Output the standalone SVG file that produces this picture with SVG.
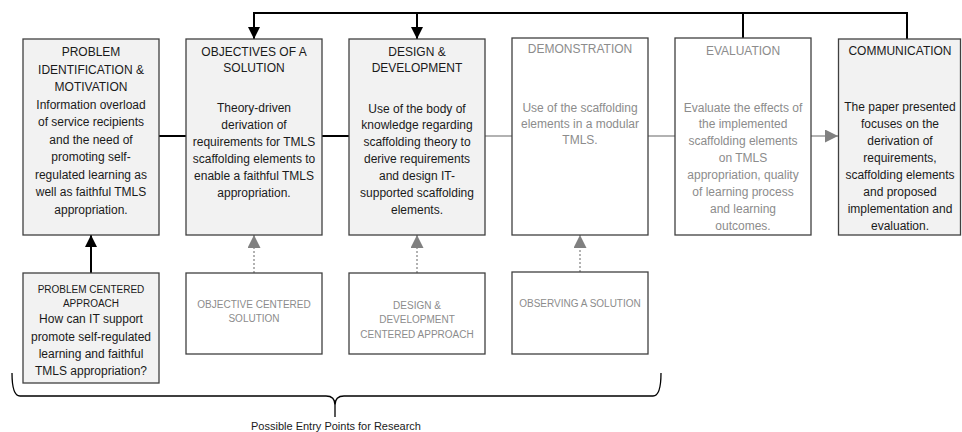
<svg xmlns="http://www.w3.org/2000/svg" width="962" height="432" viewBox="0 0 962 432">
<style>
text{font-family:"Liberation Sans",Arial,sans-serif;text-anchor:middle;}
.t{font-size:12px;fill:#1a1a1a;}
.g{font-size:12px;fill:#8c8c8c;}
.st{font-size:10px;fill:#1a1a1a;}
.sg{font-size:10px;fill:#8c8c8c;}
.bf{fill:#f2f2f2;stroke:#404040;stroke-width:1.3;}
.bw{fill:#ffffff;stroke:#404040;stroke-width:1.3;}
.k{stroke:#000;stroke-width:2;fill:none;}
.gl{stroke:#999;stroke-width:1.5;fill:none;}
.gd{stroke:#999;stroke-width:1.5;fill:none;stroke-dasharray:2 2;}
.cap{font-size:11px;fill:#1a1a1a;}
</style>
<defs>
<marker id="ak" viewBox="0 0 12 12" refX="12" refY="6" markerWidth="12" markerHeight="12" markerUnits="userSpaceOnUse" orient="auto"><path d="M0,0 L12,6 L0,12 z" fill="#000"/></marker>
<marker id="ag" viewBox="0 0 13 13" refX="13" refY="6.5" markerWidth="13" markerHeight="13" markerUnits="userSpaceOnUse" orient="auto"><path d="M0,0 L13,6.5 L0,13 z" fill="#808080"/></marker>
</defs>
<g id="connectors">
<path class="k" d="M159,136 H186"/>
<path class="k" d="M322,136 H349"/>
<path class="gl" d="M485,136 H512"/>
<path class="gl" d="M648,136 H675"/>
<path class="gl" d="M811,136 H838" marker-end="url(#ag)"/>
<path class="k" d="M907,39 V13 H254 V39" marker-end="url(#ak)"/>
<path class="k" d="M417,13 V39" marker-end="url(#ak)"/>
<path class="k" d="M743,13 V38"/>
<path class="k" d="M91,273 V235" marker-end="url(#ak)"/>
<path class="gd" d="M254,273 V235" marker-end="url(#ag)"/>
<path class="gd" d="M417,273 V235" marker-end="url(#ag)"/>
<path class="gd" d="M580,272 V235" marker-end="url(#ag)"/>
<path d="M12,373 Q12,396 20,396 L326,396 Q335,396 335,405 L335,417 M335,405 Q335,396 344,396 L653,396 Q661,396 661,373" fill="none" stroke="#000" stroke-width="1.3"/>
</g>
<g id="n1">
<rect class="bf" x="23" y="39" width="136" height="196"/>
<text class="t" x="91" y="56">PROBLEM</text>
<text class="t" x="91" y="73.5">IDENTIFICATION &amp;</text>
<text class="t" x="91" y="91">MOTIVATION</text>
<text class="t" x="91" y="108.5">Information overload</text>
<text class="t" x="91" y="126">of service recipients</text>
<text class="t" x="91" y="143.5">and the need of</text>
<text class="t" x="91" y="161">promoting self-</text>
<text class="t" x="91" y="178.5">regulated learning as</text>
<text class="t" x="91" y="196">well as faithful TMLS</text>
<text class="t" x="91" y="213.5">appropriation.</text>
</g>
<g id="n2">
<rect class="bf" x="186" y="39" width="136" height="196"/>
<text class="t" x="254" y="56">OBJECTIVES OF A</text>
<text class="t" x="254" y="71.5">SOLUTION</text>
<text class="t" x="254" y="111.5">Theory-driven</text>
<text class="t" x="254" y="128.5">derivation of</text>
<text class="t" x="254" y="145.5">requirements for TMLS</text>
<text class="t" x="254" y="162.5">scaffolding elements to</text>
<text class="t" x="254" y="179.5">enable a faithful TMLS</text>
<text class="t" x="254" y="196.5">appropriation.</text>
</g>
<g id="n3">
<rect class="bf" x="349" y="39" width="136" height="196"/>
<text class="t" x="417" y="56">DESIGN &amp;</text>
<text class="t" x="417" y="71.5">DEVELOPMENT</text>
<text class="t" x="417" y="113">Use of the body of</text>
<text class="t" x="417" y="129">knowledge regarding</text>
<text class="t" x="417" y="146">scaffolding theory to</text>
<text class="t" x="417" y="163">derive requirements</text>
<text class="t" x="417" y="180">and design IT-</text>
<text class="t" x="417" y="197">supported scaffolding</text>
<text class="t" x="417" y="214">elements.</text>
</g>
<g id="n4">
<rect class="bw" x="512" y="38" width="136" height="197"/>
<text class="g" x="580" y="53">DEMONSTRATION</text>
<text class="g" x="580" y="111.5">Use of the scaffolding</text>
<text class="g" x="580" y="127.5">elements in a modular</text>
<text class="g" x="580" y="143.5">TMLS.</text>
</g>
<g id="n5">
<rect class="bw" x="675" y="38" width="136" height="197"/>
<text class="g" x="743" y="55">EVALUATION</text>
<text class="g" x="743" y="111.5">Evaluate the effects of</text>
<text class="g" x="743" y="128">the implemented</text>
<text class="g" x="743" y="145">scaffolding elements</text>
<text class="g" x="743" y="161.5">on TMLS</text>
<text class="g" x="743" y="178.5">appropriation, quality</text>
<text class="g" x="743" y="196">of learning process</text>
<text class="g" x="743" y="212.5">and learning</text>
<text class="g" x="743" y="230">outcomes.</text>
</g>
<g id="n6">
<rect class="bf" x="838.5" y="39" width="122" height="196"/>
<text class="t" x="900" y="55">COMMUNICATION</text>
<text class="t" x="900" y="111">The paper presented</text>
<text class="t" x="900" y="128">focuses on the</text>
<text class="t" x="900" y="145">derivation of</text>
<text class="t" x="900" y="162">requirements,</text>
<text class="t" x="900" y="179">scaffolding elements</text>
<text class="t" x="900" y="196">and proposed</text>
<text class="t" x="900" y="213">implementation and</text>
<text class="t" x="900" y="230">evaluation.</text>
</g>
<g id="b1">
<rect class="bf" x="23" y="273" width="136" height="110"/>
<text class="st" x="91" y="293">PROBLEM CENTERED</text>
<text class="st" x="91" y="307">APPROACH</text>
<text class="t" x="91" y="323">How can IT support</text>
<text class="t" x="91" y="340.5">promote self-regulated</text>
<text class="t" x="91" y="358">learning and faithful</text>
<text class="t" x="91" y="375">TMLS appropriation?</text>
</g>
<g id="b2">
<rect class="bw" x="186" y="273" width="136" height="81"/>
<text class="sg" x="254" y="307.5">OBJECTIVE CENTERED</text>
<text class="sg" x="254" y="322">SOLUTION</text>
</g>
<g id="b3">
<rect class="bw" x="349" y="273" width="136" height="81"/>
<text class="sg" x="417" y="308.5">DESIGN &amp;</text>
<text class="sg" x="417" y="323">DEVELOPMENT</text>
<text class="sg" x="417" y="338">CENTERED APPROACH</text>
</g>
<g id="b4">
<rect class="bw" x="512" y="272" width="136" height="82"/>
<text class="sg" x="580" y="306.5">OBSERVING A SOLUTION</text>
</g>
<text class="cap" x="336" y="430">Possible Entry Points for Research</text>
</svg>
